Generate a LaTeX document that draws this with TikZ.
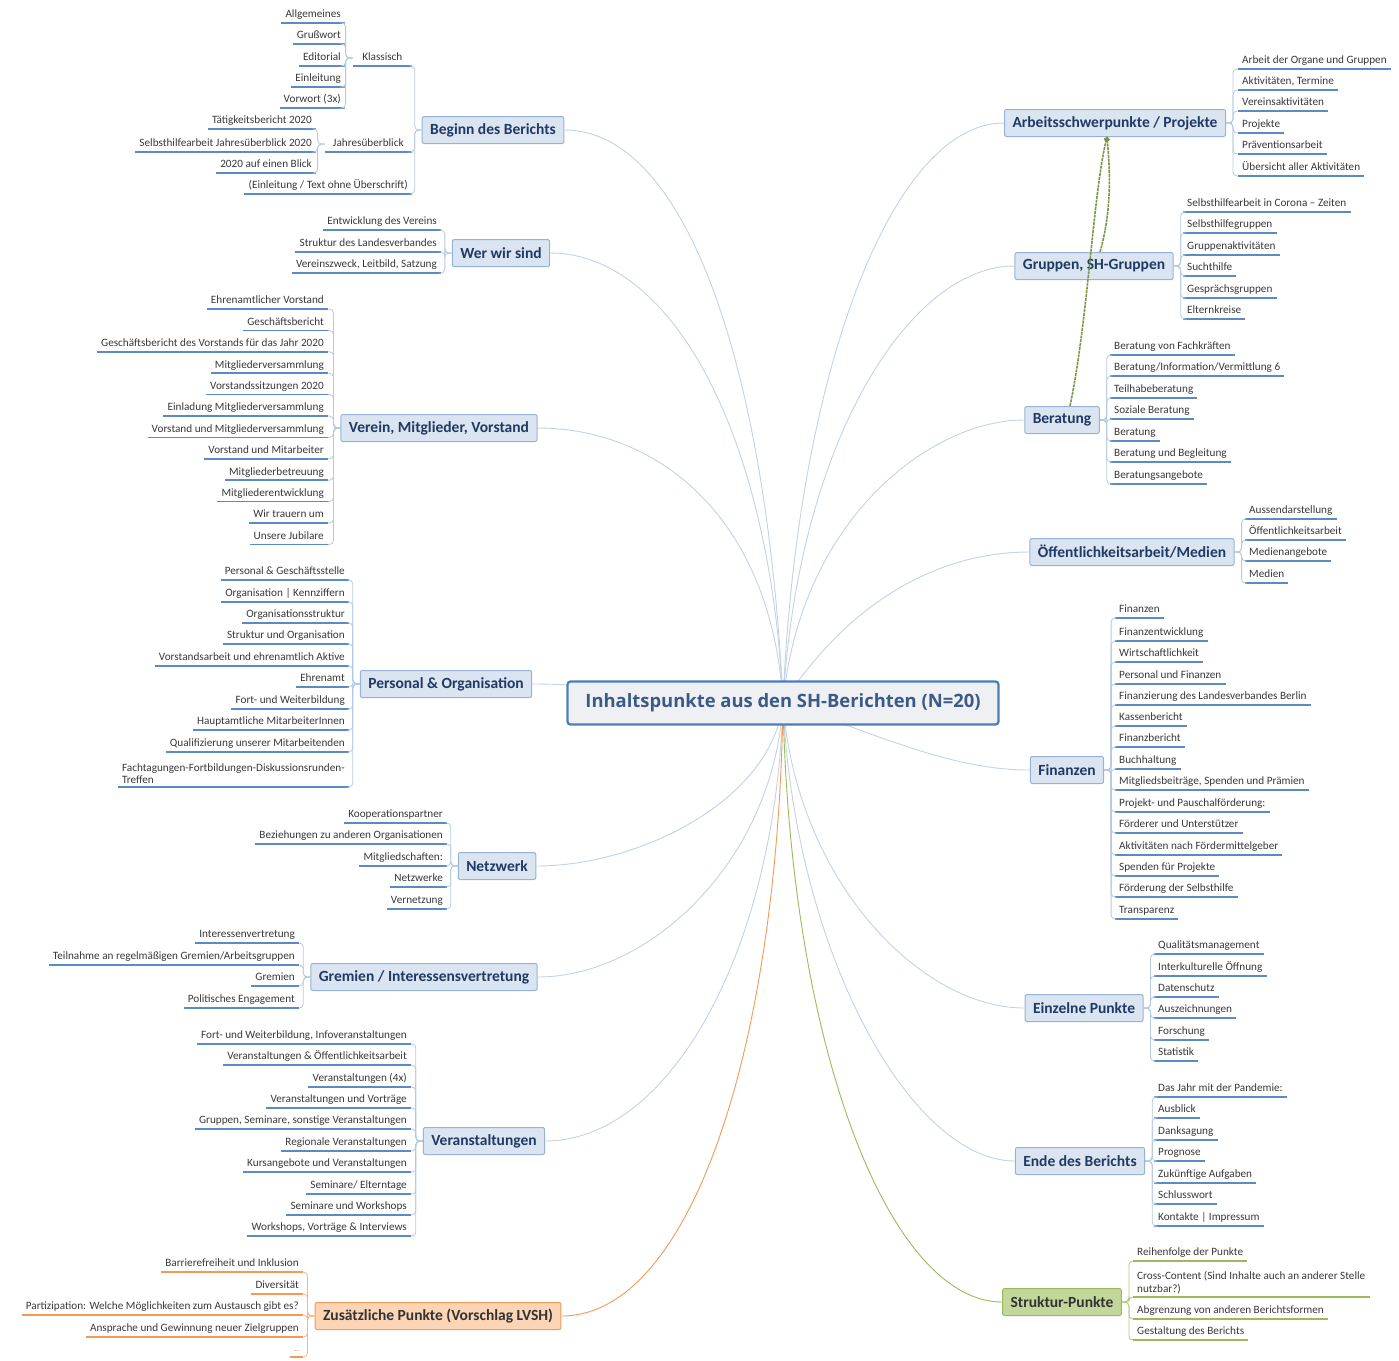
\documentclass[tikz,border=0pt]{standalone}
\usepackage{fontspec}
\setmainfont{Carlito}
\newfontfamily\corefont{Open Sans}
\usetikzlibrary{backgrounds,arrows.meta}
\definecolor{boxfill}{HTML}{DBE5F1}
\definecolor{boxline}{HTML}{95B3D7}
\definecolor{boxtext}{HTML}{1F3A64}
\definecolor{ulblue}{HTML}{5B8BC5}
\definecolor{twigblue}{HTML}{B4C9E2}
\definecolor{spokeblue}{HTML}{C3D2E4}
\definecolor{orfill}{HTML}{FBD5B5}
\definecolor{orline}{HTML}{F39A55}
\definecolor{grfill}{HTML}{C4D79B}
\definecolor{grline}{HTML}{9BBB59}
\definecolor{leaftext}{HTML}{383838}
\definecolor{corefill}{HTML}{EEF0F4}
\definecolor{coreline}{HTML}{4A7EBB}
\definecolor{coretext}{HTML}{3C5A86}

\begin{document}
\begin{tikzpicture}[x=1pt, y=-1pt,
    core/.style={draw=coreline, line width=2.2pt, fill=corefill, rounded corners=3pt, minimum width=431pt, minimum height=43pt, font=\corefont\bfseries\fontsize{18.4}{20}\selectfont, text=coretext},
    topic/.style={draw=boxline, line width=1pt, fill=boxfill, rounded corners=2pt, minimum height=27pt, inner xsep=8pt, font=\bfseries\fontsize{15.5}{17}\selectfont, text=boxtext},
    ortopic/.style={topic, fill=orfill, draw=orline, text=black!80},
    grtopic/.style={topic, fill=grfill, draw=grline, text=black!80},
    ulstroke/.style={draw=ulblue, line width=1.5pt},
    leaf/.style={font=\fontsize{11.2}{12.5}\selectfont, text=leaftext, inner xsep=4pt, inner ysep=3pt, append after command={(\tikzlastnode.south west) edge[ulstroke] (\tikzlastnode.south east)}},
    lleaf/.style={leaf, anchor=south east, text height=7.5pt, text depth=2pt},
    rleaf/.style={leaf, anchor=south west, text height=7.5pt, text depth=2pt},
    lblock/.style={leaf, anchor=south east, align=left},
    rblock/.style={leaf, anchor=south west, align=left},
    twig/.style={draw=twigblue, line width=0.8pt, rounded corners=4pt},
    ltwig/.style={twig, to path={-- ++(-7,0) |- (\tikztotarget)}},
    rtwig/.style={twig, to path={-- ++(7,0) |- (\tikztotarget)}},
    spoke/.style={draw=spokeblue, line width=0.9pt},
    link/.style={draw=grline!80!black, line width=1.6pt, dash pattern=on 3pt off 0.8pt, -{Circle[length=5pt]}}]
    \useasboundingbox (0,0) rectangle (1399,1360);

    \node[core] (core) at (783,703) {Inhaltspunkte aus den SH-Berichten (N=20)};

    \node[topic] (beg) at (493,130) {Beginn des Berichts};
    \node[lleaf, minimum width=59pt] (kla) at (412,66) {Klassisch};
    \node[lleaf, minimum width=87pt] (jah) at (412,152) {Jahresüberblick};
    \node[lleaf] (ein) at (412,194) {(Einleitung / Text ohne Überschrift)};
    \node[lleaf] (kla1) at (345,23) {Allgemeines};
    \node[lleaf] (kla2) at (345,44) {Grußwort};
    \node[lleaf] (kla3) at (345,66) {Editorial};
    \node[lleaf] (kla4) at (345,87) {Einleitung};
    \node[lleaf] (kla5) at (345,108) {Vorwort (3x)};
    \node[lleaf] (jah1) at (316,129) {Tätigkeitsbericht 2020};
    \node[lleaf] (jah2) at (316,152) {Selbsthilfearbeit Jahresüberblick 2020};
    \node[lleaf] (jah3) at (316,173) {2020 auf einen Blick};
    \draw[ltwig] (beg.west) edge (kla.south east) edge (jah.south east) edge (ein.south east);
    \draw[ltwig] (kla.west) edge (kla1.south east) edge (kla2.south east) edge (kla3.south east) edge (kla4.south east) edge (kla5.south east);
    \draw[ltwig] (jah.west) edge (jah1.south east) edge (jah2.south east) edge (jah3.south east);

    \node[topic] (wer) at (501,253) {Wer wir sind};
    \node[lleaf] (wer1) at (441,230) {Entwicklung des Vereins};
    \node[lleaf] (wer2) at (441,252) {Struktur des Landesverbandes};
    \node[lleaf] (wer3) at (441,273) {Vereinszweck, Leitbild, Satzung};
    \draw[ltwig] (wer.west) edge (wer1.south east) edge (wer2.south east) edge (wer3.south east);

    \node[topic] (ver) at (439,428) {Verein, Mitglieder, Vorstand};
    \node[lleaf] (ver1) at (328,309) {Ehrenamtlicher Vorstand};
    \node[lleaf] (ver2) at (328,330.4) {Geschäftsbericht};
    \node[lleaf] (ver3) at (328,351.8) {Geschäftsbericht des Vorstands für das Jahr 2020};
    \node[lleaf] (ver4) at (328,373.2) {Mitgliederversammlung};
    \node[lleaf] (ver5) at (328,394.6) {Vorstandssitzungen 2020};
    \node[lleaf] (ver6) at (328,416) {Einladung Mitgliederversammlung};
    \node[lleaf] (ver7) at (328,437.4) {Vorstand und Mitgliederversammlung};
    \node[lleaf] (ver8) at (328,458.8) {Vorstand und Mitarbeiter};
    \node[lleaf] (ver9) at (328,480.2) {Mitgliederbetreuung};
    \node[lleaf] (ver10) at (328,501.6) {Mitgliederentwicklung};
    \node[lleaf] (ver11) at (328,523) {Wir trauern um};
    \node[lleaf] (ver12) at (328,544.4) {Unsere Jubilare};
    \draw[ltwig] (ver.west) edge (ver1.south east) edge (ver2.south east) edge (ver3.south east) edge (ver4.south east) edge (ver5.south east) edge (ver6.south east) edge (ver7.south east) edge (ver8.south east) edge (ver9.south east) edge (ver10.south east) edge (ver11.south east) edge (ver12.south east);

    \node[topic] (per) at (446,684) {Personal \& Organisation};
    \node[lleaf] (per1) at (349,580) {Personal \& Geschäftsstelle};
    \node[lleaf] (per2) at (349,602) {Organisation | Kennziffern};
    \node[lleaf] (per3) at (349,623) {Organisationsstruktur};
    \node[lleaf] (per4) at (349,644) {Struktur und Organisation};
    \node[lleaf] (per5) at (349,666) {Vorstandsarbeit und ehrenamtlich Aktive};
    \node[lleaf] (per6) at (349,687) {Ehrenamt};
    \node[lleaf] (per7) at (349,709) {Fort- und Weiterbildung};
    \node[lleaf] (per8) at (349,730) {Hauptamtliche MitarbeiterInnen};
    \node[lleaf] (per9) at (349,752) {Qualifizierung unserer Mitarbeitenden};
    \node[lblock] (per10) at (349,787) {Fachtagungen-Fortbildungen-Diskussionsrunden-\\Treffen};
    \draw[ltwig] (per.west) edge (per1.south east) edge (per2.south east) edge (per3.south east) edge (per4.south east) edge (per5.south east) edge (per6.south east) edge (per7.south east) edge (per8.south east) edge (per9.south east) edge (per10.south east);

    \node[topic] (net) at (497,866) {Netzwerk};
    \node[lleaf] (net1) at (447,823) {Kooperationspartner};
    \node[lleaf] (net2) at (447,844) {Beziehungen zu anderen Organisationen};
    \node[lleaf] (net3) at (447,866) {Mitgliedschaften:};
    \node[lleaf] (net4) at (447,887) {Netzwerke};
    \node[lleaf] (net5) at (447,909) {Vernetzung};
    \draw[ltwig] (net.west) edge (net1.south east) edge (net2.south east) edge (net3.south east) edge (net4.south east) edge (net5.south east);

    \node[topic] (gre) at (424,977) {Gremien / Interessensvertretung};
    \node[lleaf] (gre1) at (299,943) {Interessenvertretung};
    \node[lleaf] (gre2) at (299,965) {Teilnahme an regelmäßigen Gremien/Arbeitsgruppen};
    \node[lleaf] (gre3) at (299,986) {Gremien};
    \node[lleaf] (gre4) at (299,1008) {Politisches Engagement};
    \draw[ltwig] (gre.west) edge (gre1.south east) edge (gre2.south east) edge (gre3.south east) edge (gre4.south east);

    \node[topic] (vst) at (484,1141) {Veranstaltungen};
    \node[lleaf] (vst1) at (411,1044) {Fort- und Weiterbildung, Infoveranstaltungen};
    \node[lleaf] (vst2) at (411,1065) {Veranstaltungen \& Öffentlichkeitsarbeit};
    \node[lleaf] (vst3) at (411,1087) {Veranstaltungen (4x)};
    \node[lleaf] (vst4) at (411,1108) {Veranstaltungen und Vorträge};
    \node[lleaf] (vst5) at (411,1129) {Gruppen, Seminare, sonstige Veranstaltungen};
    \node[lleaf] (vst6) at (411,1151) {Regionale Veranstaltungen};
    \node[lleaf] (vst7) at (411,1172) {Kursangebote und Veranstaltungen};
    \node[lleaf] (vst8) at (411,1194) {Seminare/ Elterntage};
    \node[lleaf] (vst9) at (411,1215) {Seminare und Workshops};
    \node[lleaf] (vst10) at (411,1236) {Workshops, Vorträge \& Interviews};
    \draw[ltwig] (vst.west) edge (vst1.south east) edge (vst2.south east) edge (vst3.south east) edge (vst4.south east) edge (vst5.south east) edge (vst6.south east) edge (vst7.south east) edge (vst8.south east) edge (vst9.south east) edge (vst10.south east);

    \begin{scope}[ulstroke/.style={draw=orline, line width=1.5pt}]
    \node[ortopic] (zus) at (438,1316) {Zusätzliche Punkte (Vorschlag LVSH)};
    \node[lleaf] (zus1) at (303,1272) {Barrierefreiheit und Inklusion};
    \node[lleaf] (zus2) at (303,1294) {Diversität};
    \node[lleaf] (zus3) at (303,1315) {Partizipation: Welche Möglichkeiten zum Austausch gibt es?};
    \node[lleaf] (zus4) at (303,1337) {Ansprache und Gewinnung neuer Zielgruppen};
    \node[lleaf, font=\fontsize{5}{6}\selectfont] (zus5) at (303,1357) {....};
    \draw[ltwig, draw=orline!70] (zus.west) edge (zus1.south east) edge (zus2.south east) edge (zus3.south east) edge (zus4.south east) edge (zus5.south east);
    \end{scope}

    \node[topic] (arb) at (1115,123) {Arbeitsschwerpunkte / Projekte};
    \node[rleaf] (arb1) at (1238,69) {Arbeit der Organe und Gruppen};
    \node[rleaf] (arb2) at (1238,90) {Aktivitäten, Termine};
    \node[rleaf] (arb3) at (1238,111) {Vereinsaktivitäten};
    \node[rleaf] (arb4) at (1238,133) {Projekte};
    \node[rleaf] (arb5) at (1238,154) {Präventionsarbeit};
    \node[rleaf] (arb6) at (1238,176) {Übersicht aller Aktivitäten};
    \draw[rtwig] (arb.east) edge (arb1.south west) edge (arb2.south west) edge (arb3.south west) edge (arb4.south west) edge (arb5.south west) edge (arb6.south west);

    \node[topic] (gru) at (1094,266) {Gruppen, SH-Gruppen};
    \node[rleaf] (gru1) at (1183,212) {Selbsthilfearbeit in Corona – Zeiten};
    \node[rleaf] (gru2) at (1183,233) {Selbsthilfegruppen};
    \node[rleaf] (gru3) at (1183,255) {Gruppenaktivitäten};
    \node[rleaf] (gru4) at (1183,276) {Suchthilfe};
    \node[rleaf] (gru5) at (1183,298) {Gesprächsgruppen};
    \node[rleaf] (gru6) at (1183,319) {Elternkreise};
    \draw[rtwig] (gru.east) edge (gru1.south west) edge (gru2.south west) edge (gru3.south west) edge (gru4.south west) edge (gru5.south west) edge (gru6.south west);

    \node[topic] (ber) at (1062,420) {Beratung};
    \node[rleaf] (ber1) at (1110,355) {Beratung von Fachkräften};
    \node[rleaf] (ber2) at (1110,376) {Beratung/Information/Vermittlung 6};
    \node[rleaf] (ber3) at (1110,398) {Teilhabeberatung};
    \node[rleaf] (ber4) at (1110,419) {Soziale Beratung};
    \node[rleaf] (ber5) at (1110,441) {Beratung};
    \node[rleaf] (ber6) at (1110,462) {Beratung und Begleitung};
    \node[rleaf] (ber7) at (1110,484) {Beratungsangebote};
    \draw[rtwig] (ber.east) edge (ber1.south west) edge (ber2.south west) edge (ber3.south west) edge (ber4.south west) edge (ber5.south west) edge (ber6.south west) edge (ber7.south west);

    \node[topic] (oef) at (1132,552) {Öffentlichkeitsarbeit/Medien};
    \node[rleaf] (oef1) at (1245,519) {Aussendarstellung};
    \node[rleaf] (oef2) at (1245,540) {Öffentlichkeitsarbeit};
    \node[rleaf] (oef3) at (1245,561) {Medienangebote};
    \node[rleaf] (oef4) at (1245,583) {Medien};
    \draw[rtwig] (oef.east) edge (oef1.south west) edge (oef2.south west) edge (oef3.south west) edge (oef4.south west);

    \node[topic] (fin) at (1067,770) {Finanzen};
    \node[rleaf] (fin1) at (1115,618) {Finanzen};
    \node[rleaf] (fin2) at (1115,641) {Finanzentwicklung};
    \node[rleaf] (fin3) at (1115,662) {Wirtschaftlichkeit};
    \node[rleaf] (fin4) at (1115,684) {Personal und Finanzen};
    \node[rleaf] (fin5) at (1115,705) {Finanzierung des Landesverbandes Berlin};
    \node[rleaf] (fin6) at (1115,726) {Kassenbericht};
    \node[rleaf] (fin7) at (1115,747) {Finanzbericht};
    \node[rleaf] (fin8) at (1115,769) {Buchhaltung};
    \node[rleaf] (fin9) at (1115,790) {Mitgliedsbeiträge, Spenden und Prämien};
    \node[rleaf] (fin10) at (1115,812) {Projekt- und Pauschalförderung:};
    \node[rleaf] (fin11) at (1115,833) {Förderer und Unterstützer};
    \node[rleaf] (fin12) at (1115,855) {Aktivitäten nach Fördermittelgeber};
    \node[rleaf] (fin13) at (1115,876) {Spenden für Projekte};
    \node[rleaf] (fin14) at (1115,897) {Förderung der Selbsthilfe};
    \node[rleaf] (fin15) at (1115,919) {Transparenz};
    \draw[rtwig] (fin.east) edge (fin1.south west) edge (fin2.south west) edge (fin3.south west) edge (fin4.south west) edge (fin5.south west) edge (fin6.south west) edge (fin7.south west) edge (fin8.south west) edge (fin9.south west) edge (fin10.south west) edge (fin11.south west) edge (fin12.south west) edge (fin13.south west) edge (fin14.south west) edge (fin15.south west);

    \node[topic] (ezp) at (1084,1008) {Einzelne Punkte};
    \node[rleaf] (ezp1) at (1154,954) {Qualitätsmanagement};
    \node[rleaf] (ezp2) at (1154,976) {Interkulturelle Öffnung};
    \node[rleaf] (ezp3) at (1154,997) {Datenschutz};
    \node[rleaf] (ezp4) at (1154,1018) {Auszeichnungen};
    \node[rleaf] (ezp5) at (1154,1040) {Forschung};
    \node[rleaf] (ezp6) at (1154,1061) {Statistik};
    \draw[rtwig] (ezp.east) edge (ezp1.south west) edge (ezp2.south west) edge (ezp3.south west) edge (ezp4.south west) edge (ezp5.south west) edge (ezp6.south west);

    \node[topic] (ende) at (1080,1161) {Ende des Berichts};
    \node[rleaf] (ende1) at (1154,1097) {Das Jahr mit der Pandemie:};
    \node[rleaf] (ende2) at (1154,1118) {Ausblick};
    \node[rleaf] (ende3) at (1154,1140) {Danksagung};
    \node[rleaf] (ende4) at (1154,1161) {Prognose};
    \node[rleaf] (ende5) at (1154,1183) {Zukünftige Aufgaben};
    \node[rleaf] (ende6) at (1154,1204) {Schlusswort};
    \node[rleaf] (ende7) at (1154,1226) {Kontakte | Impressum};
    \draw[rtwig] (ende.east) edge (ende1.south west) edge (ende2.south west) edge (ende3.south west) edge (ende4.south west) edge (ende5.south west) edge (ende6.south west) edge (ende7.south west);

    \begin{scope}[ulstroke/.style={draw=grline, line width=1.5pt}]
    \node[grtopic] (str) at (1062,1302) {Struktur-Punkte};
    \node[rleaf] (str1) at (1133,1261) {Reihenfolge der Punkte};
    \node[rblock] (str2) at (1133,1297) {Cross-Content (Sind Inhalte auch an anderer Stelle\\nutzbar?)};
    \node[rleaf] (str3) at (1133,1319) {Abgrenzung von anderen Berichtsformen};
    \node[rleaf] (str4) at (1133,1340) {Gestaltung des Berichts};
    \draw[rtwig, draw=grline!80] (str.east) edge (str1.south west) edge (str2.south west) edge (str3.south west) edge (str4.south west);
    \end{scope}

    \draw[link] ([xshift=8pt]ber.north) .. controls (1088,320) and (1093,195) .. ([xshift=-8pt]arb.south);
    \draw[link] ([xshift=6pt]gru.north) .. controls (1112,210) and (1110,170) .. ([xshift=-8pt]arb.south);

    \begin{scope}[on background layer]
    \draw[spoke] (core.center) .. controls (768,380) and (690,130) .. (beg.east);
    \draw[spoke] (core.center) .. controls (770,430) and (670,253) .. (wer.east);
    \draw[spoke] (core.center) .. controls (772,520) and (660,428) .. (ver.east);
    \draw[spoke] (core.center) .. controls (690,695) and (600,684) .. (per.east);
    \draw[spoke] (core.center) .. controls (772,800) and (640,866) .. (net.east);
    \draw[spoke] (core.center) .. controls (774,860) and (650,977) .. (gre.east);
    \draw[spoke] (core.center) .. controls (776,950) and (670,1141) .. (vst.east);
    \draw[spoke, draw=orline] (core.center) .. controls (778,1050) and (690,1316) .. (zus.east);
    \draw[spoke] (core.center) .. controls (796,380) and (890,123) .. (arb.west);
    \draw[spoke] (core.center) .. controls (798,440) and (910,266) .. (gru.west);
    \draw[spoke] (core.center) .. controls (800,520) and (930,420) .. (ber.west);
    \draw[spoke] (core.center) .. controls (850,600) and (940,552) .. (oef.west);
    \draw[spoke] (core.center) .. controls (880,735) and (950,770) .. (fin.west);
    \draw[spoke] (core.center) .. controls (796,880) and (920,1008) .. (ezp.west);
    \draw[spoke] (core.center) .. controls (794,950) and (910,1161) .. (ende.west);
    \draw[spoke, draw=grline] (core.center) .. controls (790,1050) and (890,1302) .. (str.west);
    \end{scope}
\end{tikzpicture}
\end{document}
